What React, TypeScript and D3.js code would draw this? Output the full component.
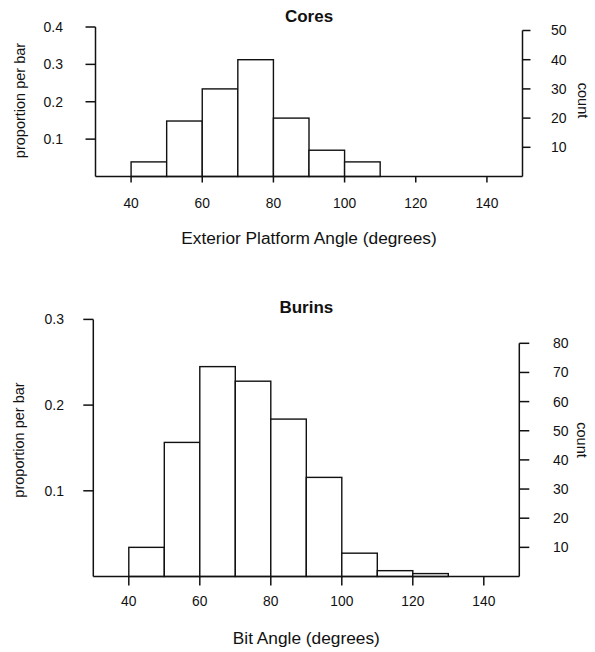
import React from "react";
import * as d3 from "d3";

// Bin lower edges (width 10 degrees)
const binStarts = [40, 50, 60, 70, 80, 90, 100, 110, 120, 130, 140];
const binWidth = 10;
const xDomain = [30, 150];
const xTicks = [40, 60, 80, 100, 120, 140];

// Cores: exterior platform angle counts per bin
const coresCounts = [5, 19, 30, 40, 20, 9, 5, 0, 0, 0, 0];
const coresPropTicks = [0.1, 0.2, 0.3, 0.4];
const coresCountTicks = [10, 20, 30, 40, 50];

// Burins: bit angle counts per bin
const burinsCounts = [10, 46, 72, 67, 54, 34, 8, 2, 1, 0, 0];
const burinsPropTicks = [0.1, 0.2, 0.3];
const burinsCountTicks = [10, 20, 30, 40, 50, 60, 70, 80];

const FONT = "'Liberation Sans', Arial, Helvetica, sans-serif";
const INK = "#111";

type PanelProps = {
  title: string;
  xLabel: string;
  counts: number[];
  propTicks: number[];
  countTicks: number[];
  L: {
    x0: number; x1: number; base: number; top: number; propMax: number;
    titleY: number; xTickLabelY: number; xTitleY: number; sideTitleY: number;
    leftLabelX: number; rightLabelX: number; yTitleX: number; countTitleX: number;
    xTickLen: number; leftTickLen: number; rightTickLen: number;
  };
};

function Panel({ title, xLabel, counts, propTicks, countTicks, L }: PanelProps) {
  const N = d3.sum(counts);
  const x = d3.scaleLinear().domain(xDomain).range([L.x0, L.x1]);
  const yP = d3.scaleLinear().domain([0, L.propMax]).range([L.base, L.top]);
  const yC = (c: number) => yP(c / N);
  const topC = yC(countTicks[countTicks.length - 1]);
  const cx = (L.x0 + L.x1) / 2;
  return (
    <g fontFamily={FONT} fill={INK}>
      <text x={cx} y={L.titleY} textAnchor="middle" fontWeight="bold" fontSize={17}>{title}</text>
      {/* bars */}
      {binStarts.map((b, i) => {
        const p = counts[i] / N;
        return (
          <rect key={b} x={x(b)} y={yP(p)} width={x(b + binWidth) - x(b)} height={L.base - yP(p)}
            fill="#fff" stroke={INK} strokeWidth={1.4} />
        );
      })}
      {/* axes lines */}
      <line x1={L.x0} x2={L.x1} y1={L.base} y2={L.base} stroke={INK} strokeWidth={1.5} />
      <line x1={L.x0} x2={L.x0} y1={yP(propTicks[propTicks.length - 1])} y2={L.base} stroke={INK} strokeWidth={1.5} />
      <line x1={L.x1} x2={L.x1} y1={topC} y2={L.base} stroke={INK} strokeWidth={1.5} />
      {/* x ticks */}
      {xTicks.map((t) => (
        <g key={t}>
          <line x1={x(t)} x2={x(t)} y1={L.base} y2={L.base + L.xTickLen} stroke={INK} strokeWidth={1.5} />
          <text x={x(t)} y={L.xTickLabelY} textAnchor="middle" fontSize={13.8}>{t}</text>
        </g>
      ))}
      {/* left ticks */}
      {propTicks.map((t) => (
        <g key={t}>
          <line x1={L.x0 - L.leftTickLen} x2={L.x0} y1={yP(t)} y2={yP(t)} stroke={INK} strokeWidth={1.5} />
          <text x={L.leftLabelX} y={yP(t)} dy="0.35em" textAnchor="end" fontSize={14}>{d3.format(".1f")(t)}</text>
        </g>
      ))}
      {/* right ticks */}
      {countTicks.map((t) => (
        <g key={t}>
          <line x1={L.x1} x2={L.x1 + L.rightTickLen} y1={yC(t)} y2={yC(t)} stroke={INK} strokeWidth={1.5} />
          <text x={L.rightLabelX} y={yC(t)} dy="0.35em" textAnchor="start" fontSize={14}>{t}</text>
        </g>
      ))}
      <text transform={`translate(${L.yTitleX},${L.sideTitleY}) rotate(-90)`} textAnchor="middle" fontSize={14.5}>proportion per bar</text>
      <text transform={`translate(${L.countTitleX},${L.sideTitleY}) rotate(90)`} textAnchor="middle" fontSize={14.5}>count</text>
      <text x={cx} y={L.xTitleY} textAnchor="middle" fontSize={17.3}>{xLabel}</text>
    </g>
  );
}

export default function App() {
  return (
    <svg width={595} height={652} style={{ position: "absolute", left: 0, top: 0, background: "#fff" }}>
      <rect width={595} height={652} fill="#fff" />
      <Panel
        title="Cores"
        xLabel="Exterior Platform Angle (degrees)"
        counts={coresCounts}
        propTicks={coresPropTicks}
        countTicks={coresCountTicks}
        L={{
          x0: 95.5, x1: 522.5, base: 176.5, top: 27, propMax: 0.4,
          titleY: 22, xTickLabelY: 208, xTitleY: 244, sideTitleY: 100.5,
          leftLabelX: 63, rightLabelX: 551, yTitleX: 24.5, countTitleX: 578,
          xTickLen: 6, leftTickLen: 10, rightTickLen: 8,
        }}
      />
      <Panel
        title="Burins"
        xLabel="Bit Angle (degrees)"
        counts={burinsCounts}
        propTicks={burinsPropTicks}
        countTicks={burinsCountTicks}
        L={{
          x0: 93.3, x1: 519.3, base: 576.5, top: 319.4, propMax: 0.3,
          titleY: 313, xTickLabelY: 606, xTitleY: 644, sideTitleY: 440,
          leftLabelX: 64, rightLabelX: 553, yTitleX: 24, countTitleX: 577,
          xTickLen: 9, leftTickLen: 10, rightTickLen: 10,
        }}
      />
    </svg>
  );
}
